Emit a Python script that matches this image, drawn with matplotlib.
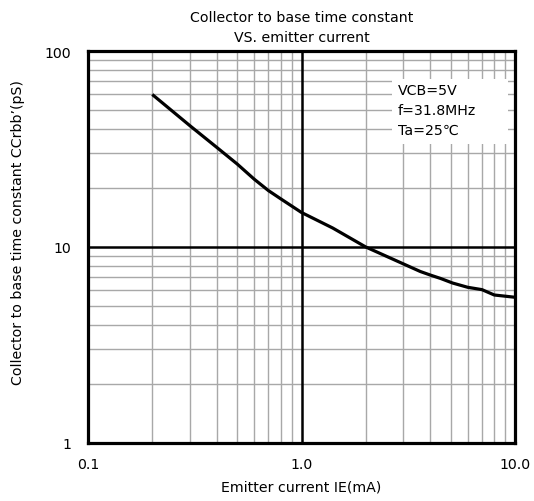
import matplotlib
matplotlib.use("Agg")
import matplotlib.pyplot as plt
from matplotlib.ticker import FixedLocator, NullLocator
from matplotlib.patches import Rectangle

plt.rcParams['font.family'] = ['DejaVu Sans', 'Noto Sans CJK JP']

# data
ie_ma = [0.2, 0.3, 0.4, 0.5, 0.6, 0.7, 0.8, 1.0, 1.4, 2.0, 3.0, 3.6, 4.0, 4.5, 5.1, 6.0, 7.0, 8.0, 10.0]
ccrbb_ps = [60, 41.6, 32.3, 26.5, 22.2, 19.4, 17.6, 15.0, 12.5, 10.0, 8.2, 7.5, 7.2, 6.9, 6.55, 6.23, 6.06, 5.69, 5.54]

x_ticks = [0.1, 1.0, 10.0]
x_tick_labels = ["0.1", "1.0", "10.0"]
y_ticks = [1, 10, 100]
y_tick_labels = ["1", "10", "100"]
x_minor = [m * d for d in (0.1, 1.0) for m in range(2, 10)]
y_minor = [m * d for d in (1, 10) for m in range(2, 10)]

title = "Collector to base time constant\nVS. emitter current"
xlabel = "Emitter current IE(mA)"
ylabel = "Collector to base time constant CCrbb\u2019(pS)"
conditions = "VCB=5V\nf=31.8MHz\nTa=25\u2103"

FS = 10.2

fig = plt.figure(figsize=(5.34, 5.02), dpi=100)
ax = fig.add_axes([88/534, 1-444/502, (515-88)/534, (444-52)/502])
ax.set_xscale('log')
ax.set_yscale('log')
ax.set_xlim(0.1, 10)
ax.set_ylim(1, 100)

for v in x_minor:
    ax.axvline(v, color='#a8a8a8', lw=1.0, zorder=1)
for v in y_minor:
    ax.axhline(v, color='#a8a8a8', lw=1.0, zorder=1)
ax.axvline(1.0, color='black', lw=1.8, zorder=2)
ax.axhline(10, color='black', lw=1.8, zorder=2)

ax.plot(ie_ma, ccrbb_ps, color='black', lw=2.3, zorder=5, solid_capstyle='butt')

ax.xaxis.set_major_locator(FixedLocator(x_ticks))
ax.yaxis.set_major_locator(FixedLocator(y_ticks))
ax.xaxis.set_minor_locator(NullLocator())
ax.yaxis.set_minor_locator(NullLocator())
ax.set_xticklabels(x_tick_labels)
ax.set_yticklabels(y_tick_labels)
ax.tick_params(axis='both', which='both', length=0, labelsize=FS)
ax.tick_params(axis='x', pad=10)
ax.tick_params(axis='y', pad=12)
for s in ax.spines.values():
    s.set_linewidth(2.3)
    s.set_zorder(10)

ax.add_patch(Rectangle((0.712, 0.763), 0.272, 0.166, transform=ax.transAxes,
                       facecolor='white', edgecolor='none', zorder=7))
ax.text(0.726, 0.919, conditions, transform=ax.transAxes, fontsize=FS,
        va='top', ha='left', linespacing=1.55, zorder=8)

ax.set_xlabel(xlabel, fontsize=FS, labelpad=6)
ax.set_ylabel(ylabel, fontsize=FS)
ax.yaxis.set_label_coords(-0.148, 0.54)
ax.set_title(title, fontsize=FS, linespacing=1.55, pad=7)

fig.savefig("out.png", dpi=100, facecolor='white')
